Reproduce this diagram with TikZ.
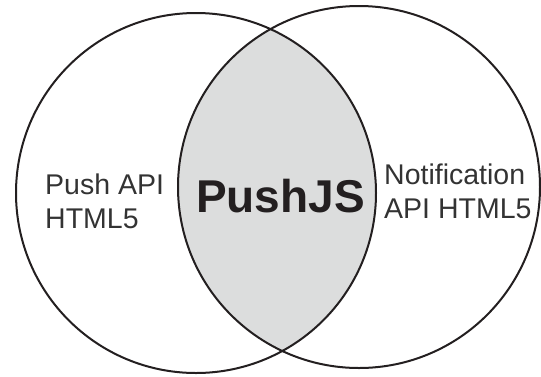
\documentclass[tikz,border=0pt]{standalone}
\usepackage{fontspec}
\setmainfont{Liberation Sans}
\definecolor{ink}{HTML}{231F20}
\definecolor{lens}{HTML}{DCDDDD}
\definecolor{txt}{HTML}{333333}
\tikzset{
  ring/.style={draw=ink, line width=2pt},
  sidetext/.style={inner sep=0pt, align=left, text=txt, font=\fontsize{28.5}{34}\selectfont},
  maintext/.style={inner sep=0pt, text=ink, font=\fontsize{46}{50}\selectfont\bfseries}
}
\begin{document}
\begin{tikzpicture}[x=1pt,y=-1pt]
\useasboundingbox (0,0) rectangle (541,376);
\begin{scope}
  \clip (196,193) circle[radius=180];
  \fill[lens] (359,187) circle[radius=181];
\end{scope}
\draw[ring] (196,193) circle[radius=180];
\draw[ring] (359,187) circle[radius=181];
\node[sidetext, anchor=base west] (pushapi) at (45,228) {Push API\\HTML5};
\node[maintext, anchor=base west] (pushjs) at (196,212) {PushJS};
\node[sidetext, anchor=base west] (notif) at (384,218) {Notification\\API HTML5};
\end{tikzpicture}
\end{document}
